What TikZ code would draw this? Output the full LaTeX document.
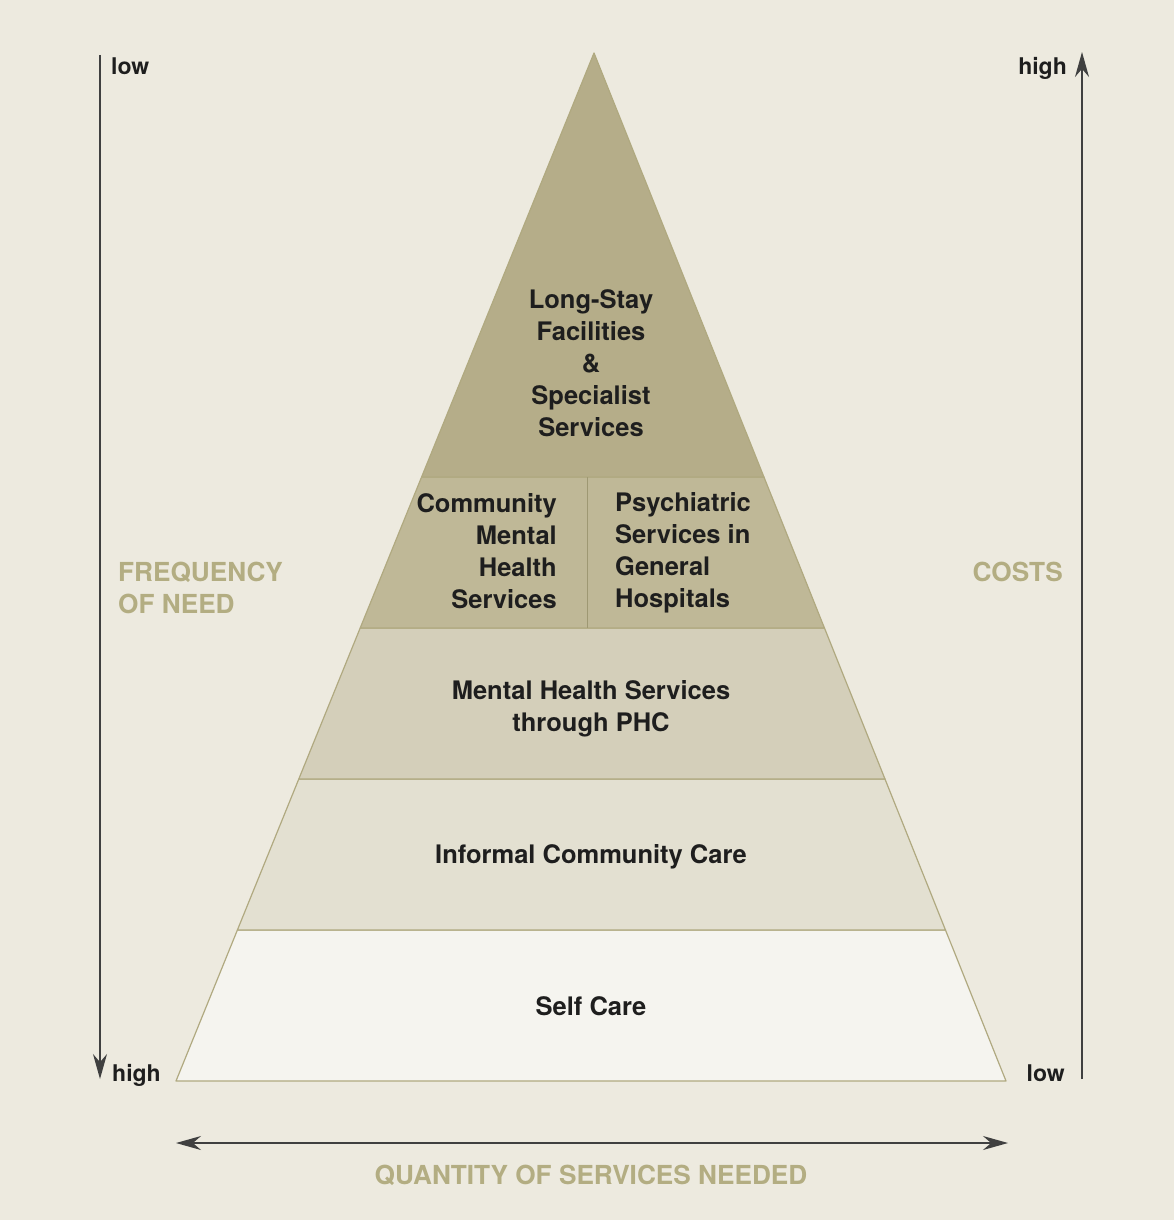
\documentclass[tikz,border=0pt]{standalone}
\usepackage{fontspec}
\setmainfont{TeX Gyre Heros}
\usetikzlibrary{arrows.meta,calc}

\definecolor{bg}{HTML}{EDEADF}
\definecolor{tierA}{HTML}{B5AD89}
\definecolor{tierB}{HTML}{BFB897}
\definecolor{tierC}{HTML}{D4CFBA}
\definecolor{tierD}{HTML}{E3E0D1}
\definecolor{tierE}{HTML}{F5F4EF}
\definecolor{rim}{HTML}{B0A980}
\definecolor{axislabel}{HTML}{B3AD82}
\definecolor{ink}{HTML}{1E1E1E}

\tikzset{
  tier/.style={draw=rim,line width=1.2pt,line join=round},
  tiertext/.style={font=\fontsize{25.5}{32}\selectfont\bfseries,text=ink,align=center,inner sep=0pt},
  axistext/.style={font=\fontsize{26.2}{32}\selectfont\bfseries,text=axislabel,inner sep=0pt},
  endtext/.style={font=\fontsize{23}{28}\selectfont\bfseries,text=ink,inner sep=0pt},
  axis/.style={draw=ink!85,line width=1.5pt,-{Stealth[length=25pt,width=14pt]}},
}

\begin{document}
\begin{tikzpicture}[x=1pt,y=-1pt]
\fill[bg] (0,0) rectangle (1174,1220);
\useasboundingbox (0,0) rectangle (1174,1220);

% pyramid corners
\coordinate (apex) at (594,53);
\coordinate (bl) at (176,1081);
\coordinate (br) at (1006,1081);
\foreach \t/\n in {0.4125/1,0.5593/2,0.7062/3,0.8531/4}{
  \coordinate (l\n) at ($(apex)!\t!(bl)$);
  \coordinate (r\n) at ($(apex)!\t!(br)$);
}

% tiers
\filldraw[tier,fill=tierE] (l4) -- (r4) -- (br) -- (bl) -- cycle;
\filldraw[tier,fill=tierD] (l3) -- (r3) -- (r4) -- (l4) -- cycle;
\filldraw[tier,fill=tierC] (l2) -- (r2) -- (r3) -- (l3) -- cycle;
\filldraw[tier,fill=tierB] (l1) -- (r1) -- (r2) -- (l2) -- cycle;
\filldraw[tier,fill=tierA] (apex) -- (r1) -- (l1) -- cycle;
\draw[rim!90!black,line width=1pt] (587,477) -- (587,628);

% tier labels
\node[tiertext] (longstay) at (591,363) {Long-Stay\\Facilities\\\&\\Specialist\\Services};
\node[tiertext,align=right,anchor=east] (cmhs) at (557,551) {Community\\Mental\\Health\\Services};
\node[tiertext,align=left,anchor=west] (psych) at (615,553) {Psychiatric\\Services in\\General\\Hospitals};
\node[tiertext] (phc) at (591,709) {Mental Health Services\\through PHC};
\node[tiertext] (informal) at (591,857) {Informal Community Care};
\node[tiertext] (self) at (591,1006) {Self Care};

% axes
\coordinate (freqtop) at (100,55);
\coordinate (freqbot) at (100,1079);
\coordinate (costbot) at (1082,1079);
\coordinate (costtop) at (1082,52);
\coordinate (qleft) at (176,1143);
\coordinate (qright) at (1008,1143);
\draw[axis] (freqtop) -- (freqbot);
\draw[axis] (costbot) -- (costtop);
\draw[axis,{Stealth[length=25pt,width=14pt]}-{Stealth[length=25pt,width=14pt]}] (qleft) -- (qright);

\node[endtext,anchor=west] (freqlow) at (111,66) {low};
\node[endtext,anchor=west] (freqhigh) at (112,1075) {high};
\node[endtext,anchor=east] (costhigh) at (1067,68) {high};
\node[endtext,anchor=east] (costlow) at (1065,1073) {low};

\node[axistext,align=left,anchor=west] (freq) at (118,588) {FREQUENCY\\OF NEED};
\node[axistext,anchor=east] (costs) at (1063,572) {COSTS};
\node[axistext] (quantity) at (591,1175) {QUANTITY OF SERVICES NEEDED};
\end{tikzpicture}
\end{document}
